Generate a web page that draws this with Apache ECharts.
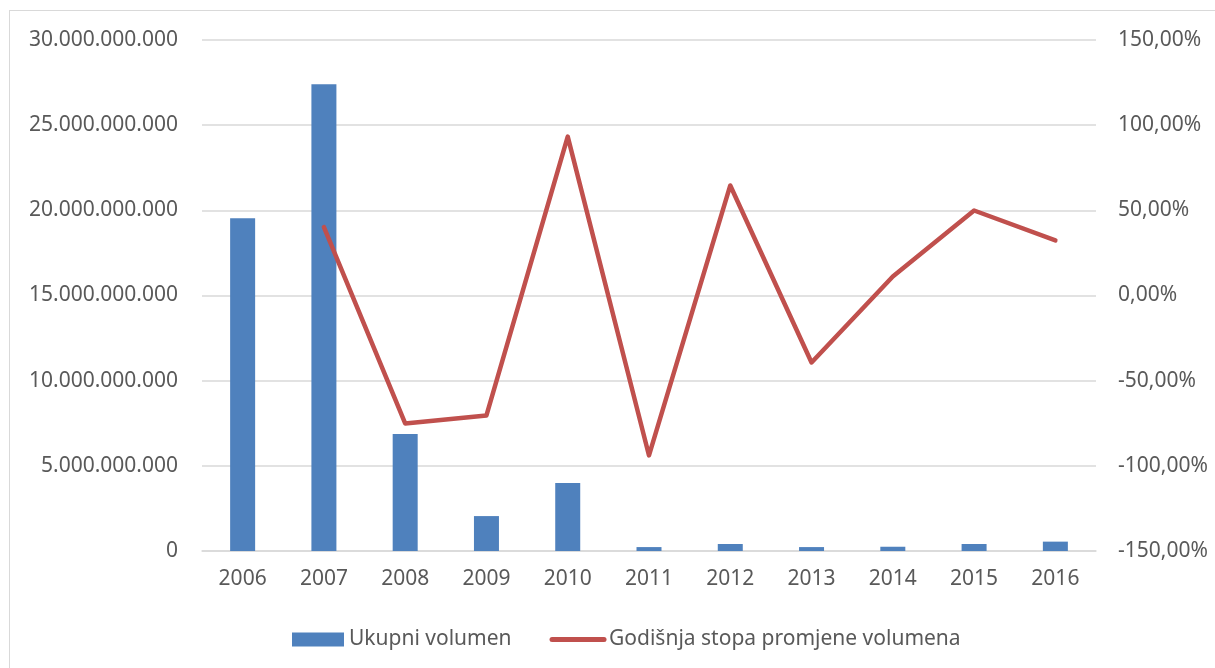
<!DOCTYPE html>
<html><head><meta charset="utf-8">
<script src="https://cdn.jsdelivr.net/npm/echarts@6/dist/echarts.min.js"></script>
<style>html,body{margin:0;padding:0;background:#fff}#c{width:1215px;height:668px}
#frame{position:absolute;left:9px;top:10px;width:1215px;height:668px;border:1px solid #d9d9d9;box-sizing:border-box;pointer-events:none}</style>
</head><body><div id="c"></div><div id="frame"></div>
<script>
const years = ['2006','2007','2008','2009','2010','2011','2012','2013','2014','2015','2016'];
const volume = [19540000000, 27400000000, 6870000000, 2050000000, 3990000000, 230000000, 410000000, 230000000, 250000000, 410000000, 550000000];
const rate = [null, 40.1, -75.1, -70.4, 93.3, -93.9, 64.6, -39.3, 11.2, 49.9, 32.3];
const seriesNames = ['Ukupni volumen', 'Godišnja stopa promjene volumena'];

function fmtThousands(v){ return String(Math.round(v)).replace(/\B(?=(\d{3})+(?!\d))/g,'.'); }
function fmtPct(v){ return v.toFixed(2).replace('.',',') + '%'; }

const font = 'Noto Sans';
const chart = echarts.init(document.getElementById('c'), null, {renderer:'canvas'});
chart.setOption({
  animation:false,
  grid:{left:202, right:119, top:40, bottom:117},
  legend:{
    top:624, left:287, itemGap:38,
    textStyle:{fontFamily:font, fontSize:21, color:'#595959'},
    data:[{name:seriesNames[0], icon:'rect'},{name:seriesNames[1], itemStyle:{opacity:0}}],
    lineStyle:{width:5, cap:'round'},
    itemWidth:52, itemHeight:14
  },
  xAxis:{type:'category', data:years,
    axisLine:{lineStyle:{color:'#d9d9d9', width:1.5}}, axisTick:{show:false},
    axisLabel:{fontFamily:font, fontSize:21, color:'#595959', margin:18}},
  yAxis:[
    {type:'value', min:0, max:30000000000, interval:5000000000,
     axisLine:{show:false}, axisTick:{show:false},
     splitLine:{lineStyle:{color:'#d9d9d9', width:1.5}},
     axisLabel:{fontFamily:font, fontSize:21, color:'#595959', margin:24, formatter:fmtThousands}},
    {type:'value', min:-150, max:150, interval:50, position:'right',
     axisLine:{show:false}, axisTick:{show:false}, splitLine:{show:false},
     axisLabel:{fontFamily:font, fontSize:21, color:'#595959', margin:22, formatter:fmtPct}}
  ],
  series:[
    {name:seriesNames[0], type:'bar', data:volume, barWidth:25, itemStyle:{color:'#4f81bd'}},
    {name:seriesNames[1], type:'line', yAxisIndex:1, data:rate, symbol:'none',
     lineStyle:{color:'#c0504d', width:4.5, cap:'round', join:'round'}, itemStyle:{color:'#c0504d'}}
  ]
});
</script></body></html>
